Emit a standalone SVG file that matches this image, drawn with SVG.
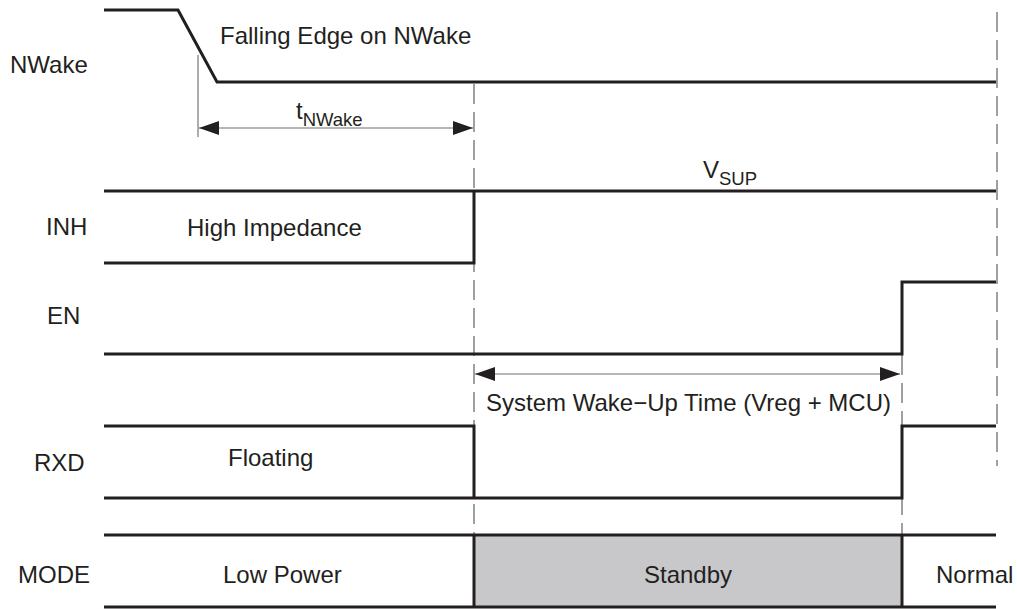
<svg xmlns="http://www.w3.org/2000/svg" width="1017" height="609" viewBox="0 0 1017 609">
<defs>
<style>
.sig{fill:none;stroke:#231f20;stroke-width:3;stroke-linejoin:miter;stroke-linecap:butt}
.dash{fill:none;stroke:#6d6e70;stroke-width:1.3;stroke-dasharray:20 8}
.guide{fill:none;stroke:#808080;stroke-width:1.3}
.dim{fill:none;stroke:#6d6e70;stroke-width:1.2}
.t{font-family:"Liberation Sans",Arial,sans-serif;font-size:24px;fill:#231f20}
.sub{font-size:18.5px}
</style>
<marker id="ah" viewBox="0 0 20 14" refX="20" refY="7" markerWidth="20" markerHeight="14" markerUnits="userSpaceOnUse" orient="auto-start-reverse">
<path d="M0,0 L20,7 L0,14 Z" fill="#231f20"/>
</marker>
</defs>
<rect width="1017" height="609" fill="#ffffff"/>
<g id="connectors">
<line class="dash" x1="474" y1="84" x2="474" y2="535"/>
<line class="dash" x1="902" y1="355" x2="902" y2="535"/>
<line class="dash" x1="997" y1="12" x2="997" y2="466"/>
<line class="guide" x1="198" y1="55" x2="198" y2="137"/>
<line class="dim" x1="199" y1="128" x2="473" y2="128" marker-start="url(#ah)" marker-end="url(#ah)"/>
<line class="dim" x1="475" y1="374" x2="900" y2="374" marker-start="url(#ah)" marker-end="url(#ah)"/>
</g>
<g id="nwake">
<text class="t" x="10" y="73">NWake</text>
<polyline class="sig" points="104,10 178,10 217,82 996,82"/>
<text class="t" x="220" y="44">Falling Edge on NWake</text>
<text class="t" x="296" y="119">t<tspan class="sub" dy="7">NWake</tspan></text>
</g>
<g id="inh">
<text class="t" x="46" y="235">INH</text>
<polyline class="sig" points="104,191 996,191"/>
<polyline class="sig" points="104,263 474,263 474,191"/>
<text class="t" x="187" y="236">High Impedance</text>
<text class="t" x="703" y="178">V<tspan class="sub" dy="7">SUP</tspan></text>
</g>
<g id="en">
<text class="t" x="47" y="324">EN</text>
<polyline class="sig" points="104,354 902,354 902,282 996,282"/>
<text class="t" x="486" y="411">System Wake−Up Time (Vreg + MCU)</text>
</g>
<g id="rxd">
<text class="t" x="34" y="471">RXD</text>
<polyline class="sig" points="104,426 474,426 474,498"/>
<polyline class="sig" points="104,498 902,498 902,426 996,426"/>
<text class="t" x="228" y="466">Floating</text>
</g>
<g id="mode">
<rect x="474" y="535" width="428" height="72" fill="#c8c8ca"/>
<line class="sig" x1="104" y1="535" x2="996" y2="535"/>
<line class="sig" x1="104" y1="607" x2="996" y2="607"/>
<line class="sig" x1="474" y1="535" x2="474" y2="607"/>
<line class="sig" x1="902" y1="535" x2="902" y2="607"/>
<text class="t" x="18" y="583">MODE</text>
<text class="t" x="223" y="583">Low Power</text>
<text class="t" x="688" y="583" text-anchor="middle">Standby</text>
<text class="t" x="936" y="583">Normal</text>
</g>
</svg>
